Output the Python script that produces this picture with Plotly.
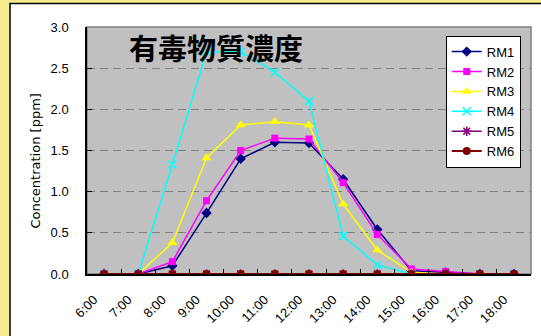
import plotly.graph_objects as go

times = ["6:00", "7:00", "8:00", "9:00", "10:00", "11:00", "12:00",
         "13:00", "14:00", "15:00", "16:00", "17:00", "18:00"]
rm1 = [0, 0, 0.10, 0.74, 1.40, 1.60, 1.59, 1.15, 0.54, 0.04, 0.02, 0, 0]
rm2 = [0, 0, 0.15, 0.89, 1.50, 1.65, 1.64, 1.11, 0.48, 0.06, 0.03, 0, 0]
rm3 = [0, 0, 0.38, 1.41, 1.81, 1.85, 1.81, 0.85, 0.29, 0.02, 0, 0, 0]
rm4 = [0, 0, 1.33, 2.70, 2.70, 2.45, 2.10, 0.46, 0.11, 0, 0, 0, 0]
rm5 = [0, 0, 0, 0, 0, 0, 0, 0, 0, 0, 0.01, 0, 0]
rm6 = [0, 0, 0, 0, 0, 0, 0, 0, 0, 0, 0, 0, 0]
y_ticks = [0, 0.5, 1.0, 1.5, 2.0, 2.5, 3.0]

series = [
    ("RM1", rm1, "#000080", "diamond", 8, 1.5),
    ("RM2", rm2, "#FF00FF", "square", 7, 1.5),
    ("RM3", rm3, "#FFFF00", "triangle-up", 9, 1.5),
    ("RM4", rm4, "#00FFFF", "x-thin", 8, 1.5),
    ("RM5", rm5, "#800080", "asterisk", 8, 1.5),
    ("RM6", rm6, "#800000", "circle", 8, 2),
]

fig = go.Figure()
for name, vals, col, sym, sz, lw in series:
    mk = dict(symbol=sym, size=sz, color=col)
    if sym in ("x-thin", "asterisk"):
        mk["line"] = dict(color=col, width=1.5)
    fig.add_trace(go.Scatter(x=times, y=vals, name=name, mode="lines+markers",
                             line=dict(color=col, width=lw), marker=mk))

font = "Liberation Sans, Arial, sans-serif"
pad = "\u00a0" * 4

fig.update_layout(
    width=541, height=336,
    margin=dict(l=87, r=10, t=27, b=62, autoexpand=False),
    paper_bgcolor="#F6EB8C",
    plot_bgcolor="rgba(0,0,0,0)",
    font=dict(family=font, size=13, color="black"),
    showlegend=True,
    legend=dict(x=0.808, y=0.965, xanchor="left", yanchor="top",
                bgcolor="white", bordercolor="black", borderwidth=1,
                font=dict(family=font, size=13, color="black"),
                tracegroupgap=0),
    shapes=[
        dict(type="rect", xref="paper", yref="paper",
             x0=-0.1734, x1=1.2, y0=-0.4, y1=1.0952,
             fillcolor="white", line=dict(color="black", width=1.5),
             layer="below"),
        dict(type="rect", xref="paper", yref="paper",
             x0=0, x1=1, y0=0, y1=1,
             fillcolor="#C0C0C0", line=dict(color="#808080", width=1.5),
             layer="below"),
    ],
    annotations=[
        dict(text="有毒物質濃度", xref="paper", yref="paper", x=0.2905, y=0.919,
             xanchor="center", yanchor="middle", showarrow=False,
             font=dict(family="Noto Sans CJK JP", size=29, color="black",
                       weight="bold")),
        dict(text="Concentration [ppm]", xref="paper", yref="paper",
             x=-0.117, y=0.4555, xanchor="center", yanchor="middle",
             textangle=-90, showarrow=False,
             font=dict(family="DejaVu Sans", size=13, color="black")),
    ],
)

fig.update_xaxes(
    type="category", range=[-0.5, 12.5], automargin=False,
    tickmode="array", tickvals=times, ticktext=[t + pad for t in times],
    tickangle=-45, tickson="boundaries", ticks="inside", ticklen=5,
    tickcolor="black", showline=True, linecolor="black", linewidth=1.5,
    showgrid=False, ticklabelstandoff=1,
    tickfont=dict(family=font, size=13, color="black"),
)
fig.update_yaxes(
    range=[0, 3.0], tickvals=y_ticks, tickformat=".1f", automargin=False,
    ticks="inside", ticklen=5, tickcolor="black",
    showline=True, linecolor="black", linewidth=1.5,
    showgrid=True, gridcolor="#808080", gridwidth=1, griddash="8px,5px",
    zeroline=False, ticklabelstandoff=14,
    tickfont=dict(family=font, size=13, color="black"),
)

fig.write_html("out.html", config={"displayModeBar": False},
               post_script="document.body.style.margin='0';document.body.style.overflow='hidden';")
